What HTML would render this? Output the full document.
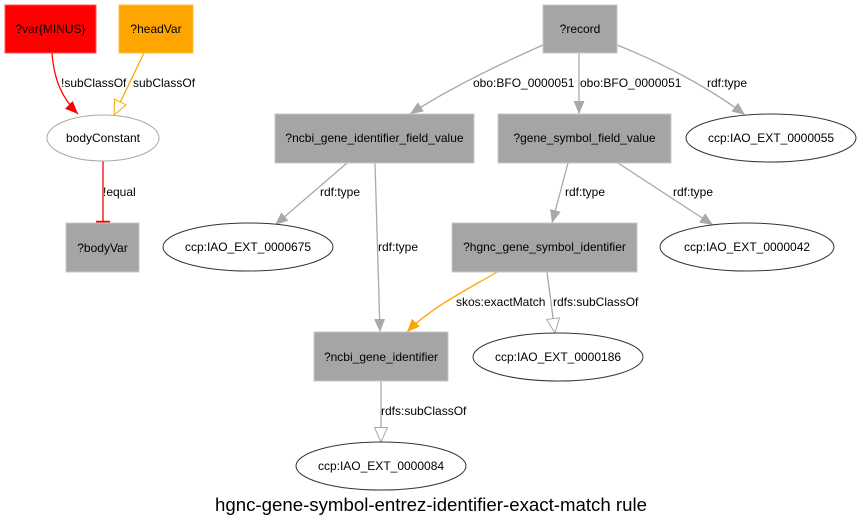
<!DOCTYPE html>
<html><head><meta charset="utf-8"><style>
html,body{margin:0;padding:0;background:#fff;}
svg{display:block;font-family:"Liberation Sans",Arial,sans-serif;}
</style></head><body>
<svg width="863" height="528" viewBox="0 0 863 528" xmlns="http://www.w3.org/2000/svg">
<defs>
<marker id="ag" markerWidth="14" markerHeight="12" refX="13" refY="6" orient="auto" markerUnits="userSpaceOnUse"><path d="M0,0.5 L13,6 L0,11.5 Z" fill="#a9a9a9"/></marker>
<marker id="ar" markerWidth="14" markerHeight="12" refX="13" refY="6" orient="auto" markerUnits="userSpaceOnUse"><path d="M0,0.5 L13,6 L0,11.5 Z" fill="#f00"/></marker>
<marker id="ao" markerWidth="14" markerHeight="12" refX="13" refY="6" orient="auto" markerUnits="userSpaceOnUse"><path d="M0,0.5 L13,6 L0,11.5 Z" fill="#ffa500"/></marker>
<marker id="hg" markerWidth="16" markerHeight="14" refX="15" refY="7" orient="auto" markerUnits="userSpaceOnUse"><path d="M0.5,0.5 L15,7 L0.5,13.5 Z" fill="#fff" stroke="#a9a9a9" stroke-width="1"/></marker>
<marker id="ho" markerWidth="16" markerHeight="14" refX="15" refY="7" orient="auto" markerUnits="userSpaceOnUse"><path d="M0.5,0.5 L15,7 L0.5,13.5 Z" fill="#fff" stroke="#ffa500" stroke-width="1"/></marker>
</defs>

<g fill="none" stroke-width="1.3">
<path d="M52,53 C54,80 62,98 78,114" stroke="#f00" marker-end="url(#ar)"/>
<path d="M144,53 L114,115" stroke="#ffa500" marker-end="url(#ho)"/>
<path d="M103,161 L103,222" stroke="#f00"/>
<path d="M96,222 L110,222" stroke="#f00" stroke-width="2.5"/>
<path d="M543,45 C500,64 450,88 410,114" stroke="#a9a9a9" marker-end="url(#ag)"/>
<path d="M579,53 L579,114" stroke="#a9a9a9" marker-end="url(#ag)"/>
<path d="M617,45 C660,62 710,88 745,115" stroke="#a9a9a9" marker-end="url(#ag)"/>
<path d="M347,163 L275,225" stroke="#a9a9a9" marker-end="url(#ag)"/>
<path d="M375,163 L380,332" stroke="#a9a9a9" marker-end="url(#ag)"/>
<path d="M568,163 L552,223" stroke="#a9a9a9" marker-end="url(#ag)"/>
<path d="M618,163 L713,225" stroke="#a9a9a9" marker-end="url(#ag)"/>
<path d="M497,272 C470,288 430,308 407,332" stroke="#ffa500" marker-end="url(#ao)"/>
<path d="M547,272 L555,333" stroke="#a9a9a9" marker-end="url(#hg)"/>
<path d="M381,381 L381,442" stroke="#a9a9a9" marker-end="url(#hg)"/>
</g>

<rect x="5" y="5" width="91" height="48" fill="#f00" stroke="#f55"/>
<rect x="119" y="5" width="74" height="48" fill="#ffa500" stroke="#ffc040"/>
<ellipse cx="103" cy="138" rx="56" ry="23" fill="#fff" stroke="#a9a9a9"/>
<rect x="66" y="223" width="73" height="49" fill="#a5a5a5" stroke="#c8c8c8"/>
<rect x="543" y="5" width="74" height="48" fill="#a5a5a5" stroke="#c8c8c8"/>
<rect x="275" y="114" width="199" height="49" fill="#a5a5a5" stroke="#c8c8c8"/>
<rect x="498" y="114" width="173" height="49" fill="#a5a5a5" stroke="#c8c8c8"/>
<ellipse cx="771" cy="138" rx="85" ry="24" fill="#fff" stroke="#333"/>
<ellipse cx="248" cy="247" rx="85" ry="24" fill="#fff" stroke="#333"/>
<rect x="452" y="223" width="185" height="49" fill="#a5a5a5" stroke="#c8c8c8"/>
<ellipse cx="747" cy="247" rx="87" ry="24" fill="#fff" stroke="#333"/>
<rect x="314" y="332" width="134" height="49" fill="#a5a5a5" stroke="#c8c8c8"/>
<ellipse cx="558" cy="357" rx="85" ry="24" fill="#fff" stroke="#333"/>
<ellipse cx="381" cy="466" rx="85" ry="24" fill="#fff" stroke="#333"/>

<g font-size="12" fill="#000" text-anchor="middle">
<text x="50.5" y="33">?var{MINUS}</text>
<text x="156" y="33">?headVar</text>
<text x="103" y="142">bodyConstant</text>
<text x="102.5" y="252">?bodyVar</text>
<text x="580" y="33">?record</text>
<text x="374.5" y="142">?ncbi_gene_identifier_field_value</text>
<text x="584.5" y="142">?gene_symbol_field_value</text>
<text x="771" y="142">ccp:IAO_EXT_0000055</text>
<text x="248" y="251">ccp:IAO_EXT_0000675</text>
<text x="544.5" y="251">?hgnc_gene_symbol_identifier</text>
<text x="747" y="251">ccp:IAO_EXT_0000042</text>
<text x="381" y="361">?ncbi_gene_identifier</text>
<text x="558" y="361">ccp:IAO_EXT_0000186</text>
<text x="381" y="470">ccp:IAO_EXT_0000084</text>
</g>
<g font-size="12" fill="#000">
<text x="61" y="87">!subClassOf</text>
<text x="133" y="87">subClassOf</text>
<text x="103" y="196">!equal</text>
<text x="473" y="87">obo:BFO_0000051</text>
<text x="580" y="87">obo:BFO_0000051</text>
<text x="707" y="87">rdf:type</text>
<text x="320" y="196">rdf:type</text>
<text x="378" y="251">rdf:type</text>
<text x="565" y="196">rdf:type</text>
<text x="673" y="196">rdf:type</text>
<text x="456" y="306">skos:exactMatch</text>
<text x="553" y="306">rdfs:subClassOf</text>
<text x="381" y="415">rdfs:subClassOf</text>
</g>
<text x="431" y="511" font-size="18" text-anchor="middle" textLength="432" lengthAdjust="spacingAndGlyphs">hgnc-gene-symbol-entrez-identifier-exact-match rule</text>
</svg>
</body></html>
